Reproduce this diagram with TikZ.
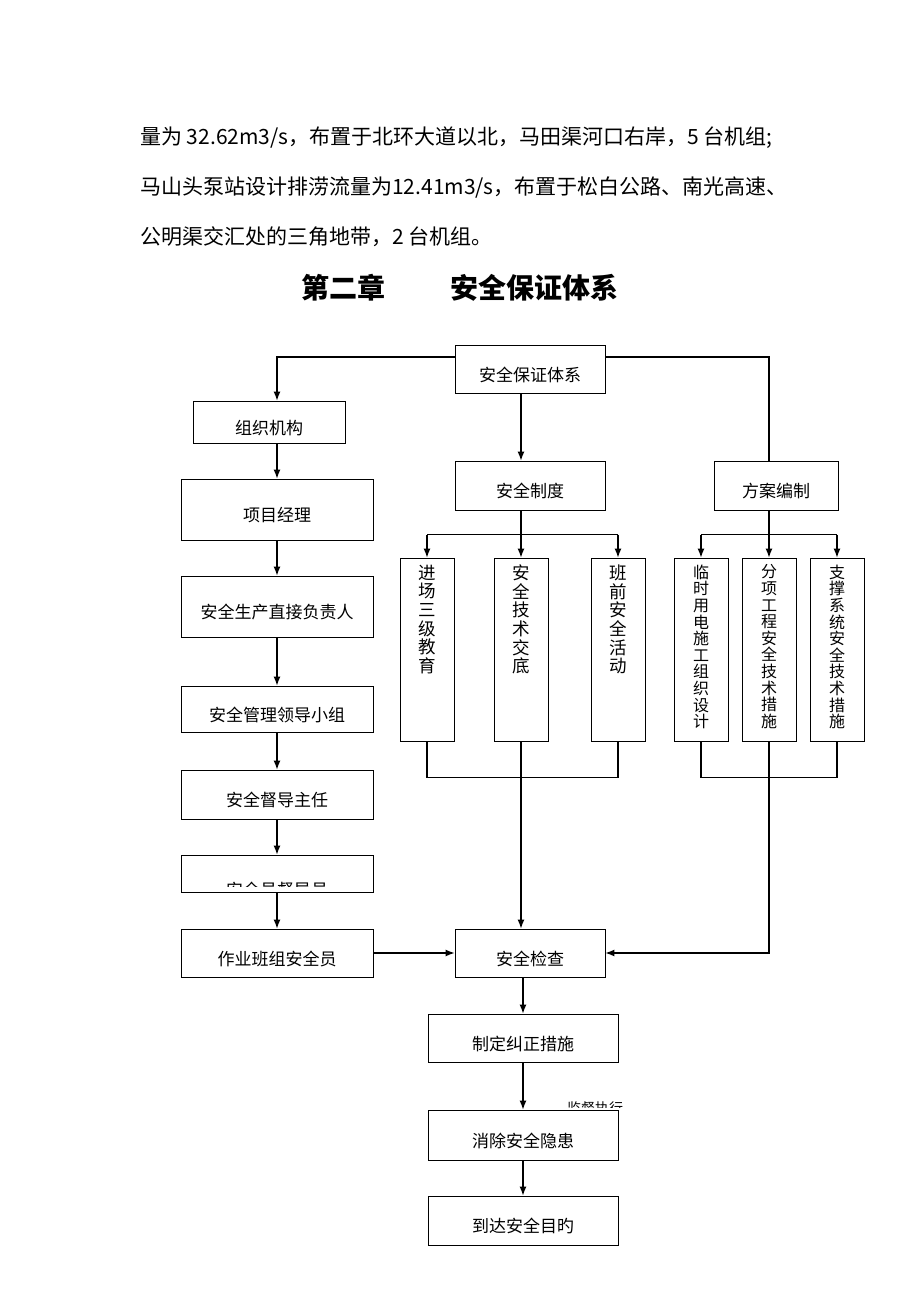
\documentclass[tikz,border=0pt]{standalone}
\usepackage{fontspec}
\setmainfont{Noto Sans CJK SC}
\usetikzlibrary{arrows.meta}
\begin{document}
\begin{tikzpicture}[x=1pt,y=-1pt,
	boite/.style={draw,line width=0.9pt,inner sep=0pt,text height=24pt,text depth=0pt,font=\fontsize{17}{18}\selectfont},
	vboite/.style={boite,minimum width=54pt,minimum height=183pt},
	vtexte/.style={anchor=north,yshift=-7pt,align=center,inner sep=0pt,font=\fontsize{17.5}{18.7}\selectfont},
	vtexteb/.style={vtexte,font=\fontsize{16}{16.6}\selectfont},
	fleche/.style={line width=1.2pt,-{Latex[length=9pt,width=7pt]}},
	trait/.style={line width=1.2pt},
	para/.style={anchor=west,inner sep=0pt,font=\fontsize{21}{21}\selectfont}]
	\useasboundingbox (0,0) rectangle (920,1302);
	% le texte au-dessus
	\node[para] (ligne1) at (140,138) {量为 32.62m3/s，布置于北环大道以北，马田渠河口右岸，5 台机组;};
	\node[para] (ligne2) at (140,188) {马山头泵站设计排涝流量为12.41m3/s，布置于松白公路、南光高速、};
	\node[para] (ligne3) at (140,237) {公明渠交汇处的三角地带，2 台机组。};
	\node[inner sep=0pt,font=\bfseries\fontsize{28}{28}\selectfont] (titre) at (460,288) {第二章\hspace{66pt}安全保证体系};
	% les boites
	\coordinate (axe) at (521,0);
	\node[boite,minimum width=150pt,minimum height=48pt] (systeme) at (530,369) {安全保证体系};
	\node[boite,minimum width=152pt,minimum height=42pt] (orga) at (269,422) {组织机构};
	\node[boite,minimum width=192pt,minimum height=61pt] (projet) at (277,509.5) {项目经理};
	\node[boite,minimum width=192pt,minimum height=61pt] (direct) at (277,606.5) {安全生产直接负责人};
	\node[boite,minimum width=192pt,minimum height=46pt] (groupe) at (277,709) {安全管理领导小组};
	\node[boite,minimum width=192pt,minimum height=49pt] (directeur) at (277,794.5) {安全督导主任};
	\node[boite,minimum width=192pt,minimum height=37pt] (inspecteur) at (277,873.5) {};
	\node[boite,minimum width=192pt,minimum height=48pt] (equipe) at (277,953) {作业班组安全员};
	\node[boite,minimum width=150pt,minimum height=48pt] (controle) at (530,953) {安全检查};
	\node[boite,minimum width=150pt,minimum height=49pt] (regles) at (530,485.5) {安全制度};
	\node[boite,minimum width=124pt,minimum height=49pt] (plan) at (776,485.5) {方案编制};
	\node[boite,minimum width=190pt,minimum height=48pt] (mesures) at (523,1038) {制定纠正措施};
	\node[boite,minimum width=190pt,minimum height=50pt] (elimine) at (523,1135) {消除安全隐患};
	\node[boite,minimum width=190pt,minimum height=49pt] (but) at (523,1220.5) {到达安全目旳};
	% boites verticales
	\node[vboite,label={[vtexte,name=edu-t]north:进\\场\\三\\级\\教\\育}] (edu) at (427,649.5) {};
	\node[vboite,label={[vtexte,name=tech-t]north:安\\全\\技\\术\\交\\底}] (tech) at (521,649.5) {};
	\node[vboite,label={[vtexte,name=act-t]north:班\\前\\安\\全\\活\\动}] (act) at (618,649.5) {};
	\node[vboite,label={[vtexteb,name=elec-t]north:临\\时\\用\\电\\施\\工\\组\\织\\设\\计}] (elec) at (701,649.5) {};
	\node[vboite,label={[vtexteb,name=ouvr-t]north:分\\项\\工\\程\\安\\全\\技\\术\\措\\施}] (ouvr) at (769,649.5) {};
	\node[vboite,label={[vtexteb,name=supp-t]north:支\\撑\\系\\统\\安\\全\\技\\术\\措\\施}] (supp) at (837,649.5) {};
	% textes coupes
	\begin{scope}
		\clip (inspecteur.north west) rectangle ([yshift=6pt]inspecteur.south east);
		\node[font=\fontsize{17}{17}\selectfont] (inspecteur-t) at ([yshift=-16pt]inspecteur.center) {安全员督导员};
	\end{scope}
	\begin{scope}
		\clip (555,1085) rectangle ([yshift=2pt]elimine.north east -| 640,0);
		\node[font=\fontsize{14}{14}\selectfont] (surveille) at (595,1108) {监督执行};
	\end{scope}
	% la colonne de gauche
	\draw[fleche] ([yshift=12pt]systeme.west) -| (projet.north |- orga.north);
	\draw[fleche] (projet.north |- orga.south) -- (projet.north);
	\foreach \a/\b in {projet/direct,direct/groupe,groupe/directeur,directeur/inspecteur,inspecteur/equipe}
		\draw[fleche] (\a.south) -- (\b.north);
	\draw[fleche] (equipe.east) -- (controle.west);
	% le milieu
	\draw[fleche] (systeme.south -| axe) -- (regles.north -| axe);
	\draw[trait] (regles.south -| axe) -- ([yshift=23pt]tech.north);
	\draw[trait] ([yshift=23pt]edu.north) -- ([yshift=23pt]act.north);
	\foreach \n in {edu,tech,act}
		\draw[fleche] ([yshift=23pt]\n.north) -- (\n.north);
	\draw[trait] (edu.south) -- ([yshift=-36pt]edu.south) -- ([yshift=-36pt]act.south) -- (act.south);
	\draw[fleche] (tech.south) -- (controle.north -| tech.south);
	% la droite
	\draw[trait] ([yshift=12pt]systeme.east) -| (plan.north -| ouvr.north);
	\draw[trait] (plan.south -| ouvr.north) -- ([yshift=23pt]ouvr.north);
	\draw[trait] ([yshift=23pt]elec.north) -- ([yshift=23pt]supp.north);
	\foreach \n in {elec,ouvr,supp}
		\draw[fleche] ([yshift=23pt]\n.north) -- (\n.north);
	\draw[trait] (elec.south) -- ([yshift=-36pt]elec.south) -- ([yshift=-36pt]supp.south) -- (supp.south);
	\draw[fleche] (ouvr.south) |- (controle.east);
	% le bas
	\draw[fleche] (controle.south -| mesures) -- (mesures.north);
	\foreach \a/\b in {mesures/elimine,elimine/but}
		\draw[fleche] (\a.south) -- (\b.north);
\end{tikzpicture}
\end{document}
